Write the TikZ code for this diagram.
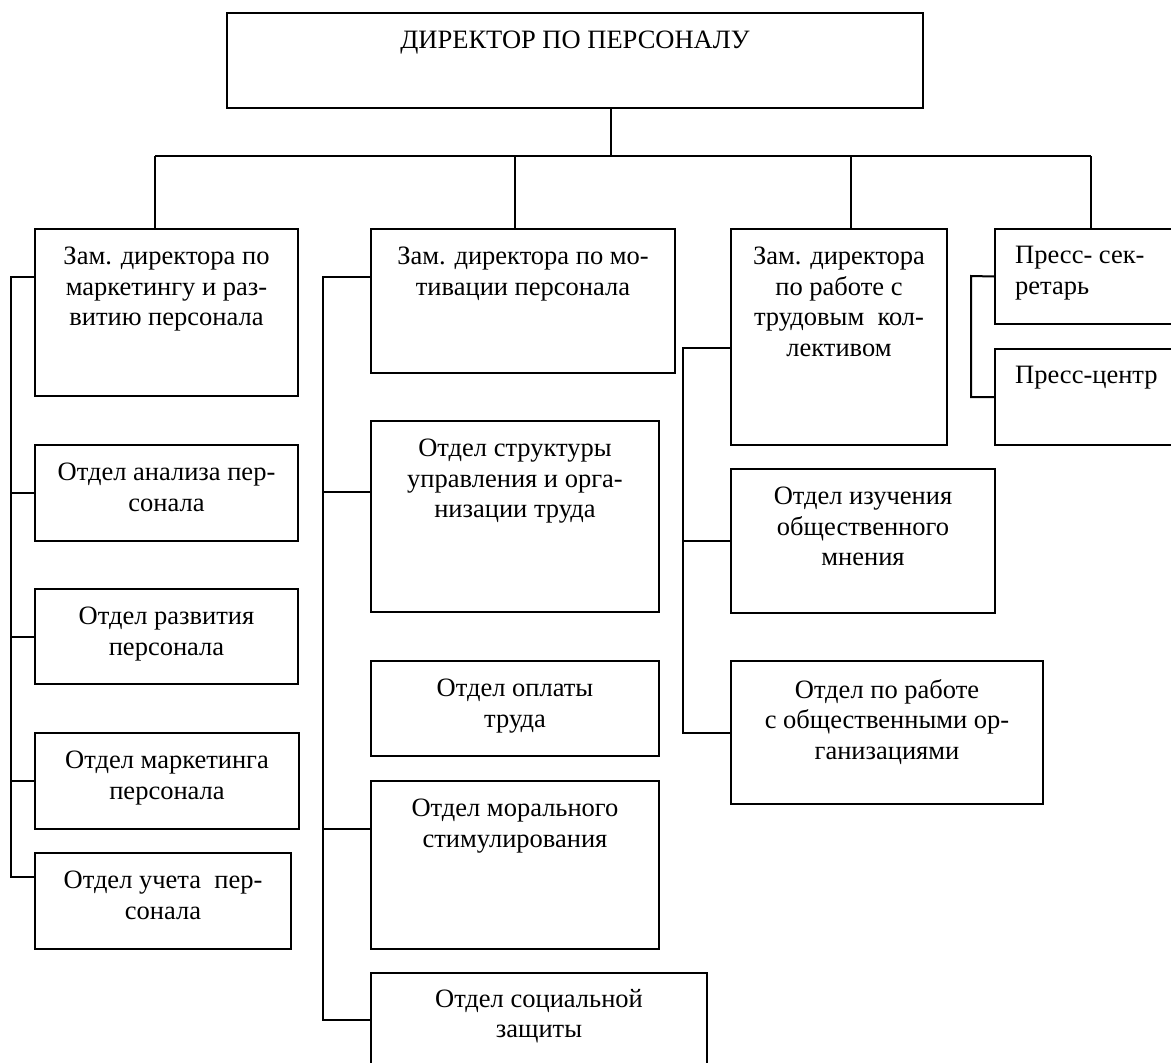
\documentclass[tikz,border=0pt]{standalone}
\usepackage{fontspec}
\setmainfont{Liberation Serif}
\usetikzlibrary{fit}
\begin{document}
\begin{tikzpicture}[x=1pt,y=-1pt,
  box/.style={draw, line width=2pt, inner sep=0pt, rectangle},
  txt/.style={inner sep=0pt, align=center, font=\fontsize{26.5pt}{30.5pt}\selectfont},
  txtl/.style={inner sep=0pt, align=left, font=\fontsize{26.5pt}{30.5pt}\selectfont},
  link/.style={line width=2pt}]
\useasboundingbox (0,0) rectangle (1171,1063);
\clip (0,0) rectangle (1171,1063);
\fill[white] (0,0) rectangle (1171,1063);

% boxes
\node[box, fit={(227,13) (923,108)}] (dir) {};
\node[box, fit={(35,229) (298,396)}] (zam1) {};
\node[box, fit={(35,445) (298,541)}] (analiz) {};
\node[box, fit={(35,589) (298,684)}] (razv) {};
\node[box, fit={(35,733) (299,829)}] (mark) {};
\node[box, fit={(35,853) (291,949)}] (uchet) {};
\node[box, fit={(371,229) (675,373)}] (zam2) {};
\node[box, fit={(371,421) (659,612)}] (struct) {};
\node[box, fit={(371,661) (659,756)}] (oplata) {};
\node[box, fit={(371,781) (659,949)}] (moral) {};
\node[box, fit={(371,973) (707,1080)}] (social) {};
\node[box, fit={(731,229) (947,445)}] (zam3) {};
\node[box, fit={(731,469) (995,613)}] (izuch) {};
\node[box, fit={(731,661) (1043,804)}] (porab) {};
\node[box, fit={(995,229) (1190,324)}] (press) {};
\node[box, fit={(995,349) (1190,445)}] (pcenter) {};

% texts
\node[txt, anchor=north] (dirt) at ([yshift=-19pt]dir.north) {ДИРЕКТОР ПО ПЕРСОНАЛУ};
\node[txt, anchor=north] (zam1t) at ([yshift=-19pt]zam1.north) {Зам. директора по\\маркетингу и раз-\\витию персонала};
\node[txt, anchor=north] (analizt) at ([yshift=-19pt]analiz.north) {Отдел анализа пер-\\сонала};
\node[txt, anchor=north] (razvt) at ([yshift=-19pt]razv.north) {Отдел развития\\персонала};
\node[txt, anchor=north] (markt) at ([yshift=-19pt]mark.north) {Отдел маркетинга\\персонала};
\node[txt, anchor=north] (uchett) at ([yshift=-19pt]uchet.north) {Отдел учета~~пер-\\сонала};
\node[txt, anchor=north] (zam2t) at ([yshift=-19pt]zam2.north) {Зам. директора по мо-\\тивации персонала};
\node[txt, anchor=north] (structt) at ([yshift=-19pt]struct.north) {Отдел структуры\\управления и орга-\\низации труда};
\node[txt, anchor=north] (oplatat) at ([yshift=-19pt]oplata.north) {Отдел оплаты\\труда};
\node[txt, anchor=north] (moralt) at ([yshift=-19pt]moral.north) {Отдел морального\\стимулирования};
\node[txt, anchor=north] (socialt) at ([yshift=-17pt]social.north) {Отдел социальной\\защиты};
\node[txt, anchor=north] (zam3t) at ([yshift=-19pt]zam3.north) {Зам. директора\\по работе с\\трудовым~~кол-\\лективом};
\node[txt, anchor=north] (izucht) at ([yshift=-19pt]izuch.north) {Отдел изучения\\общественного\\мнения};
\node[txt, anchor=north] (porabt) at ([yshift=-19pt]porab.north) {Отдел по работе\\с общественными ор-\\ганизациями};
\node[txtl, anchor=north west] (presst) at ([xshift=21pt,yshift=-18pt]press.north west) {Пресс- сек-\\ретарь};
\node[txtl, anchor=north west] (pcentert) at ([xshift=21pt,yshift=-18pt]pcenter.north west) {Пресс-центр};

% top bus
\coordinate (bc) at (611,156);
\coordinate (b1) at (155,156);
\coordinate (b2) at (515,156);
\coordinate (b3) at (851,156);
\coordinate (b4) at (1091,156);
\draw[link] (dir.south -| bc) -- (bc);
\draw[link] (b1) -- (b4);
\draw[link] (b1) -- (b1 |- zam1.north);
\draw[link] (b2) -- (b2 |- zam2.north);
\draw[link] (b3) -- (b3 |- zam3.north);
\draw[link] (b4) -- (b4 |- press.north);

% column 1
\coordinate (s1a) at (11,277);
\coordinate (s1b) at (11,877);
\coordinate (s1c) at (11,637);
\draw[link] (s1a -| zam1.west) -- (s1a) -- (s1b) -- (s1b -| uchet.west);
\draw[link] (analiz.west) -- (analiz.west -| s1a);
\draw[link] (s1c) -- (s1c -| razv.west);
\draw[link] (mark.west) -- (mark.west -| s1a);

% column 2
\coordinate (s2a) at (323,277);
\coordinate (s2b) at (323,1020);
\coordinate (s2c) at (323,492);
\coordinate (s2d) at (323,829);
\draw[link] (s2a -| zam2.west) -- (s2a) -- (s2b) -- (s2b -| social.west);
\draw[link] (s2c) -- (s2c -| struct.west);
\draw[link] (s2d) -- (s2d -| moral.west);

% column 3
\coordinate (s3a) at (683,348);
\coordinate (s3b) at (683,733);
\draw[link] (s3a -| zam3.west) -- (s3a) -- (s3b) -- (s3b -| porab.west);
\draw[link] (izuch.west) -- (izuch.west -| s3a);

% column 4
\coordinate (s4a) at (971,276);
\draw[link] (press.west) -- (s4a) |- (pcenter.west);
\end{tikzpicture}
\end{document}
